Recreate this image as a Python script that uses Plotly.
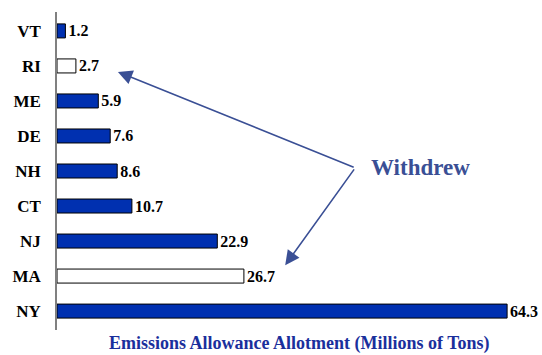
import plotly.graph_objects as go

# States ordered bottom to top
states = ["NY", "MA", "NJ", "CT", "NH", "DE", "ME", "RI", "VT"]
allotment = [64.3, 26.7, 22.9, 10.7, 8.6, 7.6, 5.9, 2.7, 1.2]
withdrawn_states = ["MA", "RI"]

BLUE = "#0030b0"
ARROW = "#3a4f95"
SERIF = "Liberation Serif, Times New Roman, serif"

fill = ["white" if s in withdrawn_states else BLUE for s in states]

fig = go.Figure(go.Bar(
    x=allotment,
    y=states,
    orientation="h",
    width=0.4,
    marker=dict(color=fill, line=dict(color="black", width=1)),
    text=[f"{v:.1f}" for v in allotment],
    textposition="outside",
    constraintext="none",
    textfont=dict(family=SERIF, size=16, color="black", weight="bold"),
    cliponaxis=False,
))

annotations = []
# Arrows pointing from the label to the withdrawn states
label_x, label_y = 42.6, 4.09
for tx, ty in [(8.7, 6.83), (32.6, 1.31)]:
    annotations.append(dict(
        x=tx, y=ty, xref="x", yref="y",
        ax=label_x, ay=label_y, axref="x", ayref="y",
        text="", showarrow=True, arrowhead=2, arrowsize=1.8,
        arrowwidth=1.6, arrowcolor=ARROW,
    ))
annotations.append(dict(
    x=44.6, y=label_y, xref="x", yref="y", text="<b>Withdrew</b>",
    showarrow=False, xanchor="left", yanchor="middle",
    font=dict(family=SERIF, size=23, color=ARROW),
))
annotations.append(dict(
    x=0.503, y=-0.042, xref="paper", yref="paper",
    text="<b>Emissions Allowance Allotment (Millions of Tons)</b>",
    showarrow=False, xanchor="center", yanchor="middle",
    font=dict(family=SERIF, size=18, color="#1a2f9c"),
))

fig.update_layout(
    width=542, height=355,
    margin=dict(l=57, r=2, t=12, b=25),
    paper_bgcolor="white", plot_bgcolor="white",
    showlegend=False,
    annotations=annotations,
    xaxis=dict(range=[0, 69], showgrid=False, zeroline=False,
               showticklabels=False, showline=False, fixedrange=True),
    yaxis=dict(showgrid=False, zeroline=False, showline=True,
               linecolor="#808080", linewidth=1.5, ticks="",
               ticklabelstandoff=11,
               range=[-0.54, 8.54],
               tickfont=dict(family=SERIF, size=17, color="black", weight="bold")),
)

fig.write_html("out.html")
